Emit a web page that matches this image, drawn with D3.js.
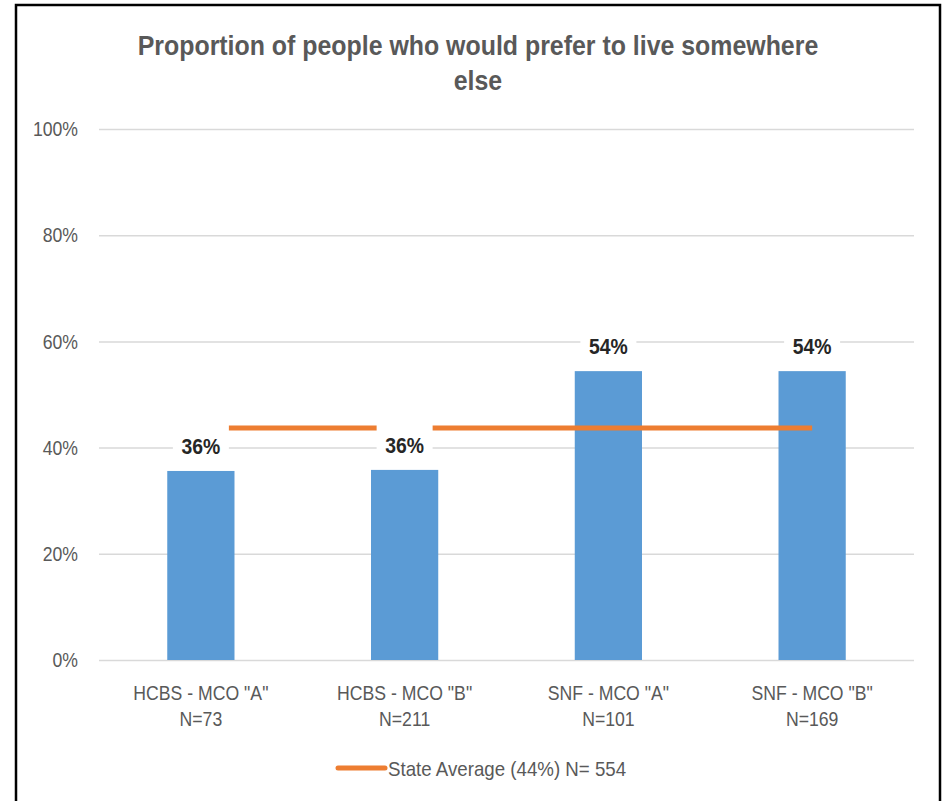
<!DOCTYPE html>
<html>
<head>
<meta charset="utf-8">
<script src="https://cdn.jsdelivr.net/npm/d3@7"></script>
<style>
  html, body { margin: 0; padding: 0; background: #ffffff; }
  svg { display: block; }
  text { font-family: "Liberation Sans", Arial, sans-serif; }
</style>
</head>
<body>
<svg id="chart" width="945" height="801"></svg>
<script>
// ---- data ----
const categories = ['HCBS - MCO "A"', 'HCBS - MCO "B"', 'SNF - MCO "A"', 'SNF - MCO "B"'];
const sampleSizes = ["N=73", "N=211", "N=101", "N=169"];
const values = [35.6, 35.8, 54.4, 54.4];
const stateAverage = [43.7, 43.7, 43.7, 43.7];
const yTicks = [0, 20, 40, 60, 80, 100];
const titleLines = ["Proportion of people who would prefer to live somewhere", "else"];
const legendLabel = "State Average (44%) N= 554";

// ---- layout ----
const W = 945, H = 801;
const plot = { left: 99, right: 914, top: 129, bottom: 660 };
const textColor = "#595959";
const barColor = "#5B9BD5";
const lineColor = "#ED7D31";
const gridColor = "#D9D9D9";

const svg = d3.select("#chart");

// narrow the Liberation Sans glyphs to approximate the narrower Calibri look
function condense(sel, f) {
  sel.each(function () {
    const len = this.getComputedTextLength();
    d3.select(this).attr("textLength", len * f).attr("lengthAdjust", "spacingAndGlyphs");
  });
}

svg.append("rect").attr("width", W).attr("height", H).attr("fill", "#ffffff");

const x = d3.scaleBand().domain(categories).range([plot.left, plot.right]).padding(0);
const y = d3.scaleLinear().domain([0, 100]).range([plot.bottom, plot.top]);
const barW = x.bandwidth() * 0.33;

// gridlines via axis
const yGrid = d3.axisLeft(y).tickValues(yTicks).tickSize(-(plot.right - plot.left)).tickFormat("");
const gGrid = svg.append("g").attr("transform", `translate(${plot.left},0)`).call(yGrid);
gGrid.select(".domain").remove();
gGrid.selectAll(".tick line").attr("stroke", gridColor).attr("stroke-width", 1.5);

// y tick labels via axis
const yAxis = d3.axisLeft(y).tickValues(yTicks).tickSize(0).tickPadding(21).tickFormat(d => d + "%");
const gY = svg.append("g").attr("transform", `translate(${plot.left},0)`).call(yAxis);
gY.select(".domain").remove();
gY.selectAll(".tick text")
  .attr("fill", textColor)
  .style("font-size", "21px")
  .style("font-family", "'Liberation Sans', Arial, sans-serif");
condense(gY.selectAll(".tick text"), 0.84);

// bars
svg.append("g").selectAll("rect")
  .data(values)
  .join("rect")
  .attr("x", (d, i) => x(categories[i]) + x.bandwidth() / 2 - barW / 2)
  .attr("y", d => y(d))
  .attr("width", barW)
  .attr("height", d => y(0) - y(d))
  .attr("fill", barColor);

// state average line
const line = d3.line()
  .x((d, i) => x(categories[i]) + x.bandwidth() / 2)
  .y(d => y(d));
svg.append("path")
  .datum(stateAverage)
  .attr("d", line)
  .attr("fill", "none")
  .attr("stroke", lineColor)
  .attr("stroke-width", 5);

// data labels with white boxes
const lab = svg.append("g").selectAll("g")
  .data(values)
  .join("g")
  .attr("transform", (d, i) => `translate(${x(categories[i]) + x.bandwidth() / 2},${y(d) - 25})`);
lab.append("rect")
  .attr("x", -28).attr("y", -22).attr("width", 56).attr("height", 44)
  .attr("fill", "#ffffff");
const labT = lab.append("text")
  .attr("text-anchor", "middle")
  .attr("dy", "0.36em")
  .attr("fill", "#262626")
  .style("font-size", "22px")
  .style("font-weight", "bold")
  .text(d => Math.round(d) + "%");
condense(labT, 0.88);

// x axis labels
const xl = svg.append("g").selectAll("g")
  .data(categories)
  .join("g")
  .attr("transform", d => `translate(${x(d) + x.bandwidth() / 2},0)`);
const xl1 = xl.append("text")
  .attr("y", 692).attr("dy", "0.36em")
  .attr("text-anchor", "middle")
  .attr("fill", textColor)
  .style("font-size", "21px")
  .text(d => d);
const xl2 = xl.append("text")
  .attr("y", 718).attr("dy", "0.36em")
  .attr("text-anchor", "middle")
  .attr("fill", textColor)
  .style("font-size", "21px")
  .text((d, i) => sampleSizes[i]);
condense(xl1, 0.84);
condense(xl2, 0.84);

// title
const titleT = svg.append("g").selectAll("text")
  .data(titleLines)
  .join("text")
  .attr("x", 478)
  .attr("y", (d, i) => 45 + i * 35)
  .attr("dy", "0.36em")
  .attr("text-anchor", "middle")
  .attr("fill", textColor)
  .style("font-size", "27px")
  .style("font-weight", "bold")
  .text(d => d);
condense(titleT, 0.922);

// legend
svg.append("line")
  .attr("x1", 338).attr("x2", 385)
  .attr("y1", 768).attr("y2", 768)
  .attr("stroke", lineColor).attr("stroke-width", 5).attr("stroke-linecap", "round");
const legT = svg.append("text")
  .attr("x", 388).attr("y", 768).attr("dy", "0.36em")
  .attr("fill", textColor)
  .style("font-size", "21px")
  .text(legendLabel);
condense(legT, 0.89);

// outer frame
svg.append("rect")
  .attr("x", 16).attr("y", 5)
  .attr("width", 924).attr("height", 820)
  .attr("fill", "none")
  .attr("stroke", "#000000")
  .attr("stroke-width", 2.5);
</script>
</body>
</html>
